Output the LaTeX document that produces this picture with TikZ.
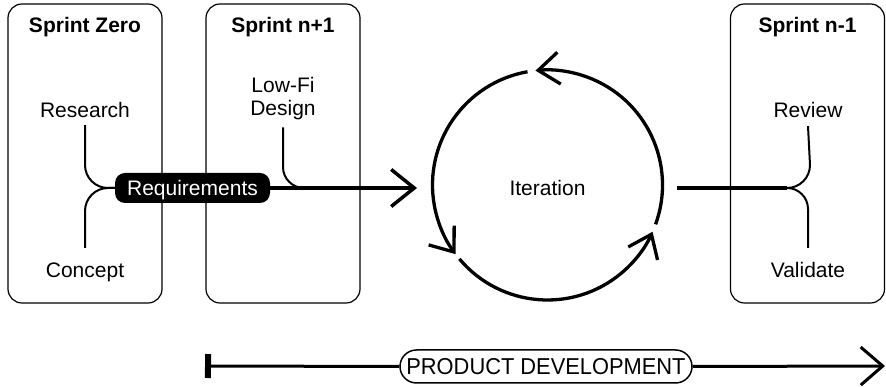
\documentclass[tikz,border=0pt]{standalone}
\usepackage{fontspec}
\setmainfont{Liberation Sans}
\usetikzlibrary{arrows.meta,shapes.misc}

\begin{document}
\begin{tikzpicture}[x=1pt,y=1pt,
  sprint/.style={draw, line width=1.2pt, rounded corners=14pt,
    minimum width=154pt, minimum height=299pt, inner sep=0pt},
  title/.style={font=\fontsize{21}{24}\selectfont\bfseries,
    text height=15pt, text depth=0pt, inner sep=0pt},
  txt/.style={font=\fontsize{21}{24}\selectfont,
    text height=15pt, text depth=0pt, inner sep=0pt},
  branch/.style={line width=2pt},
  mainline/.style={line width=3.5pt},
  ring/.style={line width=3.3pt,
    -{Straight Barb[length=21pt,width=32pt]}},
  bigarrow/.style={-{Straight Barb[length=23pt,width=37pt]}},
  pill/.style={fill=black, text=white, rounded corners=10pt,
    minimum width=155pt, minimum height=30pt, inner sep=0pt,
    font=\fontsize{21}{24}\selectfont, text height=15pt, text depth=0pt},
  phase/.style={draw, line width=1.5pt, rounded rectangle,
    minimum width=292pt, minimum height=33pt, inner sep=0pt,
    font=\fontsize{23}{26}\selectfont, text height=16.5pt, text depth=0pt}
]
\useasboundingbox (0,0) rectangle (886,387);

% sprint columns
\node[sprint] (zero) at (85,233.5) {};
\node[sprint] (next) at (283,233.5) {};
\node[sprint] (prev) at (807.5,233.5) {};

\node[title] (zerot) at (85,362) {Sprint Zero};
\node[title] (nextt) at (283,362) {Sprint n+1};
\node[title] (prevt) at (807.5,362) {Sprint n-1};

% activities
\node[txt] (res) at (85,277) {Research};
\node[txt] (con) at (85,117) {Concept};
\node[font=\fontsize{21}{23}\selectfont, align=center, inner sep=0pt]
  (lofi) at (283,288) {Low-Fi\\Design};
\node[txt] (rev) at (808,277) {Review};
\node[txt] (val) at (808,117) {Validate};

\node[pill] (req) at (192.5,199) {Requirements};
\node[txt] (iter) at (547.5,199) {Iteration};

% joins into requirements (rounded quarter turns)
\draw[branch] ([yshift=-7.5pt]res.south) -- (85,222)
  .. controls (85,209.3) and (95.3,199) .. (108,199) -- (req.west);
\draw[branch] ([yshift=14.5pt]con.north) -- (85,176)
  .. controls (85,188.7) and (95.3,199) .. (108,199) -- (req.west);

% requirements feed the iteration
\coordinate (tip) at (417,199);
\draw[mainline,bigarrow] (req.east) -- (tip);
\draw[branch] ([yshift=-7pt]lofi.south) -- (283,220)
  .. controls (283,208.4) and (292.4,199) .. (304,199) -- (310,199);

% iteration cycle
\coordinate (c) at (547.5,202);
\draw[ring] ([shift={(-20:115)}]c) arc[start angle=-20, end angle=96, radius=115];
\draw[ring] ([shift={(100:115)}]c) arc[start angle=100, end angle=217, radius=115];
\draw[ring] ([shift={(220:115)}]c) arc[start angle=220, end angle=336, radius=115];

% iteration out to review and validate
\coordinate (out) at (677,199);
\coordinate (fork) at (787,199);
\draw[mainline] (out) -- (fork);
\draw[branch] (fork) .. controls (799.7,199) and (810,209.3) .. (810,222)
  -- ([yshift=-8.5pt]rev.south);
\draw[branch] (fork) .. controls (798.6,199) and (808,189.6) .. (808,178)
  -- ([yshift=14.5pt]val.north);

% product development timeline
\coordinate (pdstart) at (205,21);
\coordinate (pdend) at (885,21);
\node[phase] (pd) at (546,20.5) {\scalebox{0.95}[1]{PRODUCT DEVELOPMENT}};
\draw[line width=3pt, {Bar[width=24pt,line width=6pt]}-] (pdstart) -- (pd.west);
\draw[line width=3pt, -{Straight Barb[length=22pt,width=38pt]}] (pd.east) -- (pdend);
\end{tikzpicture}
\end{document}
